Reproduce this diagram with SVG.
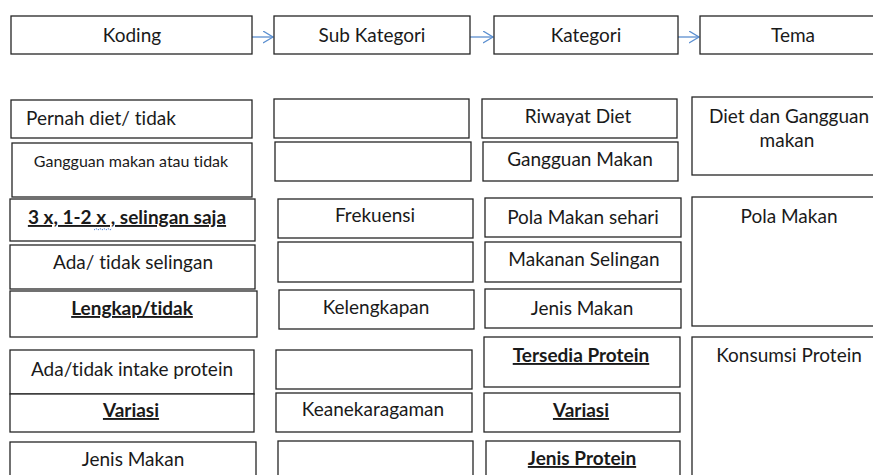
<svg xmlns="http://www.w3.org/2000/svg" width="873" height="475" viewBox="0 0 873 475">
<style>
.b{fill:#fff;stroke:#262626;stroke-width:1.3}
.t{font-family:Lato,"Open Sans",sans-serif;font-size:19px;fill:#1a1a1a;text-anchor:middle;font-variant-ligatures:none}
.l{text-anchor:start}
.s{font-size:16px}
.u{font-weight:bold;text-decoration:underline}
.c{fill:none;stroke:#5b8fd0;stroke-width:1.3}
</style>
<defs>
<marker id="ah" markerWidth="12" markerHeight="14" refX="10" refY="6" orient="auto" markerUnits="userSpaceOnUse">
<path d="M0,0 L10,6 L0,12" fill="none" stroke="#5b8fd0" stroke-width="1.3"/>
</marker>
</defs>
<rect width="873" height="475" fill="#fff"/>
<g id="connectors">
<line class="c" x1="252" y1="37" x2="273" y2="37" marker-end="url(#ah)"/>
<line class="c" x1="470" y1="37" x2="493" y2="37" marker-end="url(#ah)"/>
<line class="c" x1="678" y1="37" x2="699" y2="37" marker-end="url(#ah)"/>
</g>
<g id="koding"><rect class="b" x="11" y="16" width="241" height="38"/><text class="t" x="132" y="42">Koding</text></g>
<g id="subkategori"><rect class="b" x="274" y="16" width="196" height="38"/><text class="t" x="372" y="42">Sub Kategori</text></g>
<g id="kategori"><rect class="b" x="494" y="16" width="184" height="38"/><text class="t" x="586" y="42">Kategori</text></g>
<g id="tema"><rect class="b" x="700" y="16" width="186" height="38"/><text class="t" x="793" y="42">Tema</text></g>

<g id="k1"><rect class="b" x="11" y="100" width="241" height="38"/><text class="t l" x="26" y="125">Pernah diet/ tidak</text></g>
<g id="k2"><rect class="b" x="12" y="143" width="240" height="54"/><text class="t s" x="131" y="167">Gangguan makan atau tidak</text></g>
<g id="k3"><rect class="b" x="10" y="199" width="245" height="42"/><text class="t u" x="127" y="224">3 x, 1-2 x , selingan saja</text><path d="M94,230 l2,-1.5 l2,1.5 l2,-1.5 l2,1.5 l2,-1.5 l2,1.5 l2,-1.5 l2,1.5 l2,-1.5" fill="none" stroke="#4a7fd6" stroke-width="1" stroke-dasharray="1.5 1"/></g>
<g id="k4"><rect class="b" x="10" y="245" width="245" height="44"/><text class="t" x="133" y="269">Ada/ tidak selingan</text></g>
<g id="k5"><rect class="b" x="10" y="291" width="247" height="46"/><text class="t u" x="132" y="315">Lengkap/tidak</text></g>
<g id="k6"><rect class="b" x="10" y="350" width="244" height="44"/><text class="t" x="132" y="376">Ada/tidak intake protein</text></g>
<g id="k7"><rect class="b" x="10" y="394" width="244" height="38"/><text class="t u" x="131" y="417">Variasi</text></g>
<g id="k8"><rect class="b" x="10" y="442" width="246" height="45"/><text class="t" x="133" y="466">Jenis Makan</text></g>

<g id="s1"><rect class="b" x="274" y="99" width="195" height="39"/></g>
<g id="s2"><rect class="b" x="275" y="142" width="196" height="39"/></g>
<g id="s3"><rect class="b" x="278" y="199" width="195" height="39"/><text class="t" x="375" y="222">Frekuensi</text></g>
<g id="s4"><rect class="b" x="278" y="242" width="195" height="40"/></g>
<g id="s5"><rect class="b" x="279" y="290" width="195" height="39"/><text class="t" x="376" y="314">Kelengkapan</text></g>
<g id="s6"><rect class="b" x="276" y="350" width="196" height="39"/></g>
<g id="s7"><rect class="b" x="276" y="393" width="196" height="39"/><text class="t" x="373" y="416">Keanekaragaman</text></g>
<g id="s8"><rect class="b" x="278" y="441" width="195" height="45"/></g>

<g id="c1"><rect class="b" x="482" y="99" width="195" height="39"/><text class="t" x="578" y="123">Riwayat Diet</text></g>
<g id="c2"><rect class="b" x="483" y="142" width="195" height="39"/><text class="t" x="580" y="166">Gangguan Makan</text></g>
<g id="c3"><rect class="b" x="485" y="198" width="196" height="39"/><text class="t" x="583" y="224">Pola Makan sehari</text></g>
<g id="c4"><rect class="b" x="485" y="242" width="196" height="40"/><text class="t" x="584" y="266">Makanan Selingan</text></g>
<g id="c5"><rect class="b" x="485" y="289" width="196" height="39"/><text class="t" x="582" y="315">Jenis Makan</text></g>
<g id="c6"><rect class="b" x="484" y="337" width="196" height="50"/><text class="t u" x="581" y="362">Tersedia Protein</text></g>
<g id="c7"><rect class="b" x="484" y="393" width="196" height="39"/><text class="t u" x="581" y="417">Variasi</text></g>
<g id="c8"><rect class="b" x="486" y="441" width="194" height="45"/><text class="t u" x="582" y="465">Jenis Protein</text></g>

<g id="t1"><rect class="b" x="692" y="97" width="194" height="78"/><text class="t" x="789" y="123">Diet dan Gangguan</text><text class="t" x="787" y="147">makan</text></g>
<g id="t2"><rect class="b" x="692" y="197" width="194" height="129"/><text class="t" x="789" y="223">Pola Makan</text></g>
<g id="t3"><rect class="b" x="692" y="337" width="194" height="150"/><text class="t" x="789" y="362">Konsumsi Protein</text></g>
</svg>
